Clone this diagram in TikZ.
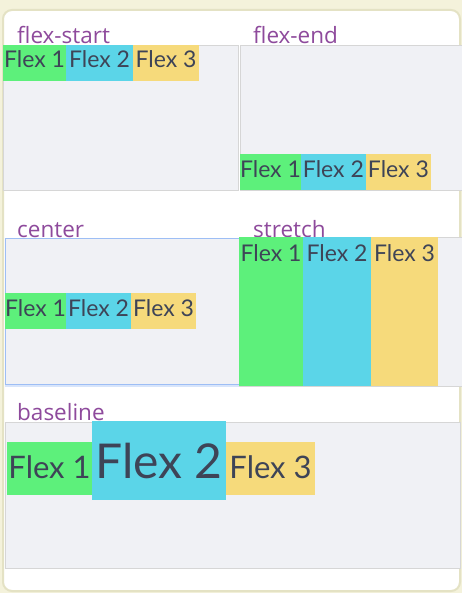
\documentclass[tikz,border=0pt]{standalone}
\usepackage{fontspec}
\setmainfont{Open Sans}
\newfontfamily\flexfont{Lato}
\usetikzlibrary{positioning}
\definecolor{cream}{HTML}{F4F2DB}
\definecolor{creamline}{HTML}{E4E2C4}
\definecolor{panelgray}{HTML}{F0F1F5}
\definecolor{titlepurple}{HTML}{8E4A9C}
\definecolor{flextext}{HTML}{3E4457}
\definecolor{flexgreen}{HTML}{5DF07B}
\definecolor{flexcyan}{HTML}{5BD5E8}
\definecolor{flexyellow}{HTML}{F6DA7B}
\definecolor{focusblue}{HTML}{9DBEF5}

\begin{document}
\begin{tikzpicture}[
  x=1pt,y=-1pt,
  font=\fontsize{22.5}{26}\selectfont,
  boxtitle/.style={anchor=base west,inner sep=0pt,text=titlepurple},
  panel/.style={draw=black!16,fill=panelgray,anchor=north west,inner sep=0pt},
  flex/.style={anchor=north west,inner sep=0pt,outer sep=0pt,text=flextext,
    text height=23pt,text depth=13pt,
    font=\flexfont\fontsize{23}{27}\selectfont},
  stretched/.style={text height=24pt,text depth=125pt},
  small/.style={text height=36pt,text depth=17pt,
    font=\flexfont\fontsize{31}{36}\selectfont},
  large/.style={text height=57pt,text depth=22pt,
    font=\flexfont\fontsize{48}{54}\selectfont}
]
  \useasboundingbox[fill=cream] (0,0) rectangle (462,593);
  \draw[creamline,line width=2pt,fill=white,rounded corners=9pt]
    (3,10) rectangle (460,591);

  % titles sit under the panels
  \node[boxtitle] (tstart) at (17,44) {flex-start};
  \node[boxtitle] (tend) at (253,44) {flex-end};
  \node[boxtitle] (tcenter) at (17,238) {center};
  \node[boxtitle] (tstretch) at (253,237) {stretch};
  \node[boxtitle] (tbase) at (17,420) {baseline};

  % flex-start
  \node[panel,minimum width=235pt,minimum height=145pt] (pstart) at (3,45) {};
  \node[flex,fill=flexgreen,minimum width=63pt] (s1) at (pstart.north west) {Flex 1};
  \node[flex,fill=flexcyan,minimum width=67pt,right=0pt of s1] (s2) {Flex 2};
  \node[flex,fill=flexyellow,minimum width=66pt,right=0pt of s2] (s3) {Flex 3};

  % flex-end
  \node[panel,minimum width=222pt,minimum height=145pt] (pend) at (240,45) {};
  \node[flex,fill=flexgreen,minimum width=60pt,anchor=south west] (e1)
    at (pend.south west) {Flex 1};
  \node[flex,fill=flexcyan,minimum width=65pt,right=0pt of e1] (e2) {Flex 2};
  \node[flex,fill=flexyellow,minimum width=65pt,right=0pt of e2] (e3) {Flex 3};

  % center (focused panel)
  \node[panel,draw=focusblue!40,line width=3pt,minimum width=235pt,
    minimum height=146pt] (pglow) at (5,238) {};
  \node[panel,draw=focusblue,line width=0.8pt,minimum width=235pt,
    minimum height=146pt] (pcenter) at (5,238) {};
  \node[flex,fill=flexgreen,minimum width=61pt,anchor=west] (c1)
    at (pcenter.west) {Flex 1};
  \node[flex,fill=flexcyan,minimum width=65pt,right=0pt of c1] (c2) {Flex 2};
  \node[flex,fill=flexyellow,minimum width=65pt,right=0pt of c2] (c3) {Flex 3};

  % stretch
  \node[panel,minimum width=223pt,minimum height=149pt] (pstretch) at (239,237) {};
  \node[flex,stretched,fill=flexgreen,minimum width=64pt] (t1)
    at (pstretch.north west) {Flex 1};
  \node[flex,stretched,fill=flexcyan,minimum width=68pt,right=0pt of t1] (t2) {Flex 2};
  \node[flex,stretched,fill=flexyellow,minimum width=67pt,right=0pt of t2] (t3) {Flex 3};

  % baseline
  \node[panel,minimum width=455pt,minimum height=146pt] (pbase) at (5,422) {};
  \node[flex,small,fill=flexgreen,minimum width=85pt] (b1) at (7,442) {Flex 1};
  \node[flex,large,fill=flexcyan,minimum width=134pt,base right=0pt of b1] (b2) {Flex 2};
  \node[flex,small,fill=flexyellow,minimum width=89pt,base right=0pt of b2] (b3) {Flex 3};
\end{tikzpicture}
\end{document}
